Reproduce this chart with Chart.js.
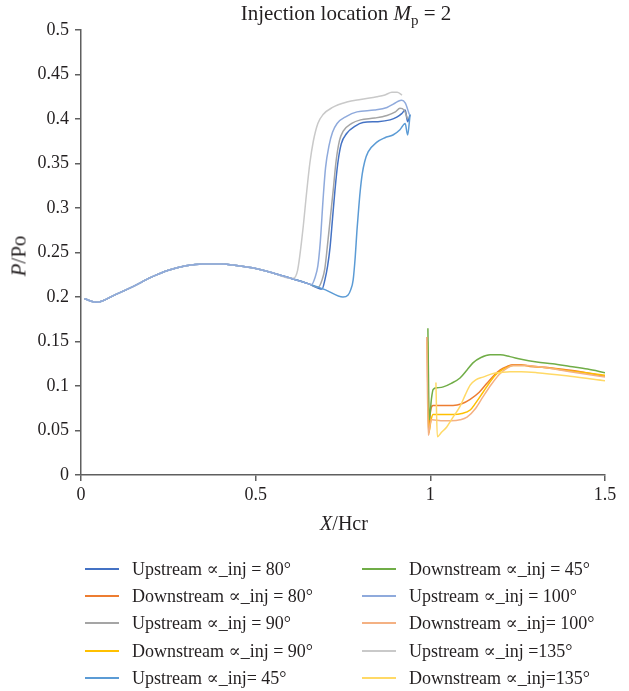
<!DOCTYPE html>
<html><head><meta charset="utf-8">
<script src="https://cdn.jsdelivr.net/npm/chart.js@4"></script>
<style>
body{margin:0;background:#fff;}
#wrap{position:relative;width:629px;height:691px;font-family:"Liberation Serif","DejaVu Serif",serif;color:#231f20;overflow:hidden;}
canvas{position:absolute;left:0;top:0;}
#title{position:absolute;top:1px;left:81px;width:530px;text-align:center;font-size:21px;line-height:24px;white-space:nowrap;}
#title sub{font-size:15px;vertical-align:-5px;line-height:0;}
#ytitle{position:absolute;left:19px;top:256px;transform:translate(-50%,-50%) rotate(-90deg);font-size:21px;white-space:nowrap;}
#xtitle{position:absolute;left:344px;top:523px;transform:translate(-50%,-50%);font-size:20px;white-space:nowrap;}
.li{position:absolute;height:24px;font-size:18px;line-height:24px;white-space:nowrap;}
.li span.sw{position:absolute;left:0;top:11px;width:34px;height:2px;}
.li span.tx{position:absolute;left:47px;top:0;}
</style></head>
<body>
<div id="wrap">
<canvas id="c" width="629" height="691"></canvas>
<div id="title">Injection location <i>M</i><sub>p</sub> = 2</div>
<div id="ytitle"><i>P</i>/Po</div>
<div id="xtitle"><i>X</i>/Hcr</div>
<div id="legend"></div>
</div>
<script>
// shared upstream baseline
const baseX = [0.01, 0.045, 0.1, 0.15, 0.2, 0.25, 0.3, 0.35, 0.4, 0.45, 0.5, 0.55, 0.6, 0.65, 0.7, 0.75];
const baseY = [0.198, 0.194, 0.203, 0.212, 0.222, 0.230, 0.235, 0.237, 0.237, 0.235, 0.232, 0.227, 0.221, 0.215, 0.208, 0.200];

const up80X = [0.69, 0.698, 0.706, 0.713, 0.72, 0.727, 0.735, 0.745, 0.761, 0.785, 0.807, 0.85, 0.885, 0.904, 0.918, 0.928, 0.935, 0.942];
const up80Y = [0.209, 0.219, 0.235, 0.256, 0.288, 0.32, 0.350, 0.372, 0.384, 0.392, 0.396, 0.397, 0.399, 0.402, 0.406, 0.41, 0.397, 0.405];

const up90X = [0.679, 0.69, 0.698, 0.705, 0.714, 0.722, 0.73, 0.74, 0.75, 0.775, 0.80, 0.84, 0.876, 0.9, 0.913, 0.925, 0.935];
const up90Y = [0.211, 0.219, 0.232, 0.256, 0.29, 0.32, 0.352, 0.376, 0.386, 0.395, 0.399, 0.401, 0.404, 0.408, 0.412, 0.41, 0.40];

const up45X = [0.764, 0.772, 0.779, 0.785, 0.79, 0.795, 0.799, 0.805, 0.812, 0.822, 0.847, 0.87, 0.893, 0.913, 0.928, 0.935, 0.942];
const up45Y = [0.202, 0.208, 0.219, 0.245, 0.275, 0.30, 0.318, 0.338, 0.352, 0.363, 0.374, 0.379, 0.382, 0.388, 0.395, 0.382, 0.405];

const up100X = [0.66, 0.67, 0.678, 0.685, 0.693, 0.70, 0.71, 0.72, 0.733, 0.76, 0.79, 0.84, 0.876, 0.895, 0.908, 0.918, 0.928, 0.94];
const up100Y = [0.214, 0.222, 0.235, 0.262, 0.31, 0.345, 0.37, 0.385, 0.395, 0.403, 0.408, 0.41, 0.413, 0.417, 0.42, 0.421, 0.418, 0.405];

const up135X = [0.607, 0.62, 0.635, 0.646, 0.655, 0.665, 0.678, 0.693, 0.72, 0.761, 0.80, 0.847, 0.87, 0.89, 0.905, 0.919];
const up135Y = [0.221, 0.23, 0.275, 0.318, 0.35, 0.375, 0.395, 0.405, 0.413, 0.419, 0.422, 0.425, 0.427, 0.43, 0.43, 0.427];

const dn80X = [0.991, 0.995, 1.0, 1.008, 1.03, 1.065, 1.09, 1.114, 1.14, 1.162, 1.18, 1.2, 1.22, 1.237, 1.26, 1.285, 1.33, 1.371, 1.43, 1.5];
const dn80Y = [0.155, 0.045, 0.07, 0.078, 0.078, 0.078, 0.080, 0.085, 0.093, 0.103, 0.111, 0.118, 0.122, 0.124, 0.124, 0.122, 0.121, 0.119, 0.116, 0.111];

const dn90X = [0.992, 0.996, 1.002, 1.008, 1.03, 1.065, 1.09, 1.114, 1.13, 1.151, 1.17, 1.191, 1.215, 1.237, 1.27, 1.32, 1.4, 1.5];
const dn90Y = [0.15, 0.048, 0.062, 0.068, 0.068, 0.068, 0.069, 0.073, 0.081, 0.093, 0.104, 0.114, 0.12, 0.123, 0.123, 0.121, 0.117, 0.112];

const dn45X = [0.993, 0.997, 1.003, 1.008, 1.02, 1.037, 1.06, 1.085, 1.105, 1.122, 1.145, 1.171, 1.2, 1.228, 1.26, 1.305, 1.35, 1.4, 1.45, 1.5];
const dn45Y = [0.165, 0.062, 0.085, 0.096, 0.098, 0.099, 0.103, 0.109, 0.118, 0.126, 0.132, 0.135, 0.135, 0.133, 0.13, 0.127, 0.125, 0.122, 0.119, 0.115];

const dn100X = [0.99, 0.994, 1.0, 1.005, 1.03, 1.06, 1.085, 1.105, 1.13, 1.151, 1.175, 1.2, 1.22, 1.237, 1.27, 1.32, 1.4, 1.5];
const dn100Y = [0.155, 0.045, 0.058, 0.062, 0.061, 0.061, 0.062, 0.065, 0.075, 0.088, 0.102, 0.114, 0.12, 0.123, 0.123, 0.121, 0.116, 0.110];

const dn135X = [1.016, 1.02, 1.032, 1.047, 1.065, 1.085, 1.1, 1.114, 1.13, 1.151, 1.18, 1.2, 1.228, 1.26, 1.305, 1.4, 1.5];
const dn135Y = [0.104, 0.043, 0.048, 0.054, 0.065, 0.077, 0.09, 0.101, 0.107, 0.11, 0.114, 0.115, 0.116, 0.116, 0.115, 0.111, 0.106];

const seriesLabels = ["Upstream \u221D_inj = 80\u00B0", "Downstream \u221D_inj = 80\u00B0", "Upstream \u221D_inj = 90\u00B0", "Downstream \u221D_inj = 90\u00B0", "Upstream \u221D_inj= 45\u00B0",
  "Downstream \u221D_inj = 45\u00B0", "Upstream \u221D_inj = 100\u00B0", "Downstream \u221D_inj= 100\u00B0", "Upstream \u221D_inj =135\u00B0", "Downstream \u221D_inj=135\u00B0"];
const seriesColors = ["#4472c4", "#ed7d31", "#a5a5a5", "#ffc000", "#5b9bd5", "#70ad47", "#8faadc", "#f4b183", "#c9c9c9", "#ffd966"];
// drawing order (lower = drawn on top)
const seriesOrder = [10, 9, 8, 7, 6, 5, 0, 4, 3, 1];

const xTicks = [0, 0.5, 1, 1.5];
const yTicks = [0, 0.05, 0.1, 0.15, 0.2, 0.25, 0.3, 0.35, 0.4, 0.45, 0.5];

function pts(xs, ys){ return xs.map((x,i)=>({x:x, y:ys[i]})); }
function upstream(xs, ys){
  const b = [];
  baseX.forEach((x,i)=>{ if (x < xs[0]) b.push({x:x, y:baseY[i]}); });
  return b.concat(pts(xs, ys));
}
const seriesData = [
  upstream(up80X, up80Y), pts(dn80X, dn80Y),
  upstream(up90X, up90Y), pts(dn90X, dn90Y),
  upstream(up45X, up45Y), pts(dn45X, dn45Y),
  upstream(up100X, up100Y), pts(dn100X, dn100Y),
  upstream(up135X, up135Y), pts(dn135X, dn135Y)
];

const datasets = seriesData.map((d,i)=>({
  label: seriesLabels[i], data: d, borderColor: seriesColors[i], backgroundColor: seriesColors[i],
  borderWidth: 1.5, pointRadius: 0, fill: false, cubicInterpolationMode: 'monotone', parsing: false,
  order: seriesOrder[i]
}));

const fontFam = '"Liberation Serif","DejaVu Serif",serif';
const axisColor = '#5f5f5f';
const fmt = v => String(+(+v).toFixed(2));

new Chart(document.getElementById('c'), {
  type: 'line',
  data: { datasets },
  options: {
    responsive: false, animation: false, devicePixelRatio: 1,
    layout: { padding: { left: 0, right: 24, top: 30, bottom: 176 } },
    plugins: { legend: { display: false }, title: { display: false }, tooltip: { enabled: false } },
    scales: {
      x: {
        type: 'linear', min: 0, max: 1.5,
        afterBuildTicks: s => { s.ticks = xTicks.map(v => ({ value: v })); },
        afterFit: s => { s.height = 40; },
        ticks: { font: { family: fontFam, size: 18 }, color: '#231f20', padding: 3, callback: fmt, maxRotation: 0 },
        grid: { drawOnChartArea: false, drawTicks: true, tickLength: 6, color: axisColor, lineWidth: 1.5 },
        border: { display: true, color: axisColor, width: 1.5 }
      },
      y: {
        type: 'linear', min: 0, max: 0.5,
        afterBuildTicks: s => { s.ticks = yTicks.map(v => ({ value: v })); },
        afterFit: s => { s.width = 81; },
        ticks: { font: { family: fontFam, size: 18 }, color: '#231f20', padding: 6, callback: fmt },
        grid: { drawOnChartArea: false, drawTicks: true, tickLength: 6, color: axisColor, lineWidth: 1.5 },
        border: { display: true, color: axisColor, width: 1.5 }
      }
    }
  }
});

// legend (two columns, column-major like the reference)
const leg = document.getElementById('legend');
seriesLabels.forEach((lab, i) => {
  const col = i < 5 ? 0 : 1, row = i % 5;
  const d = document.createElement('div');
  d.className = 'li';
  d.style.left = (col === 0 ? 85 : 362) + 'px';
  d.style.top = (569 + row * 27.2 - 12) + 'px';
  d.innerHTML = '<span class="sw" style="background:' + seriesColors[i] + '"></span><span class="tx"></span>';
  d.querySelector('.tx').textContent = lab;
  leg.appendChild(d);
});
</script>
</body></html>
